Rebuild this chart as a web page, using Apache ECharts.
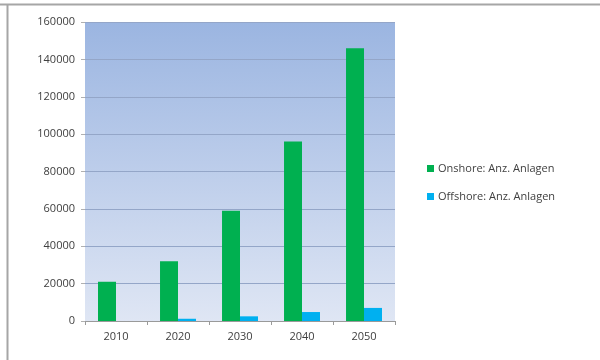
<!DOCTYPE html>
<html>
<head>
<meta charset="utf-8">
<script src="https://cdn.jsdelivr.net/npm/echarts@6/dist/echarts.min.js"></script>
<style>
html,body{margin:0;padding:0;background:#fff;}
#chart{width:600px;height:360px;}
</style>
</head>
<body>
<div id="chart"></div>
<script>
// Jahre
var years = ['2010', '2020', '2030', '2040', '2050'];
// Anzahl Anlagen
var onshore = [21000, 32000, 59000, 96000, 146000];
var offshore = [0, 1200, 2500, 4800, 7000];
var seriesNames = ['Onshore: Anz. Anlagen', 'Offshore: Anz. Anlagen'];
var yTicks = [0, 20000, 40000, 60000, 80000, 100000, 120000, 140000, 160000];

var dom = document.getElementById('chart');
var myChart = echarts.init(dom);
var option = {
	animation: false,
	textStyle: {fontFamily: 'Open Sans'},
	grid: {
		left: 85,
		right: 205,
		top: 22,
		bottom: 39,
		show: true,
		borderWidth: 0,
		backgroundColor: new echarts.graphic.LinearGradient(0, 0, 0, 1, [
			{offset: 0, color: '#9bb5e1'},
			{offset: 1, color: '#dfe6f4'}
		])
	},
	graphic: [
		{type: 'line', shape: {x1: 0, y1: 4.5, x2: 600, y2: 4.5}, style: {stroke: '#a6a6a6', lineWidth: 2}},
		{type: 'line', shape: {x1: 7.5, y1: 4, x2: 7.5, y2: 360}, style: {stroke: '#a6a6a6', lineWidth: 2}}
	],
	legend: {
		orient: 'vertical',
		left: 422,
		top: 158,
		itemWidth: 7,
		itemHeight: 7,
		itemGap: 17,
		icon: 'rect',
		textStyle: {color: '#404040', fontSize: 11, padding: [0, 0, 0, -1]},
		data: seriesNames
	},
	xAxis: {
		type: 'category',
		data: years,
		axisLine: {lineStyle: {color: '#9a9a9a'}},
		axisTick: {show: true, length: 4, lineStyle: {color: '#9a9a9a'}},
		axisLabel: {color: '#404040', fontSize: 11, margin: 10}
	},
	yAxis: {
		type: 'value',
		min: yTicks[0],
		max: yTicks[yTicks.length - 1],
		interval: 20000,
		axisLine: {show: false},
		axisTick: {show: true, length: 4, lineStyle: {color: '#b0b0b0'}},
		axisLabel: {color: '#404040', fontSize: 11, margin: 10, formatter: function (v) { return String(v); }},
		splitLine: {lineStyle: {color: '#94a6c8', width: 1}}
	},
	series: [
		{
			name: seriesNames[0],
			type: 'bar',
			data: onshore,
			barGap: '0%',
			barCategoryGap: '42%',
			itemStyle: {color: '#00b050'}
		},
		{
			name: seriesNames[1],
			type: 'bar',
			data: offshore,
			itemStyle: {color: '#00b0f0'}
		}
	]
};
if (option && typeof option === 'object') {
	myChart.setOption(option, true);
}
</script>
</body>
</html>
